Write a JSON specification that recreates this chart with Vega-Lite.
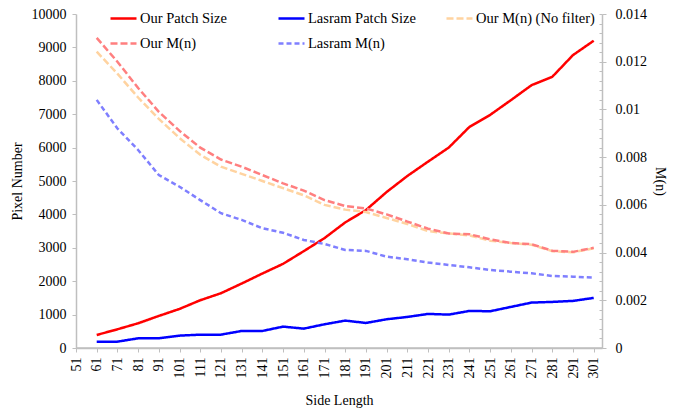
{
  "$schema": "https://vega.github.io/schema/vega-lite/v6.json",
  "autosize": {"type": "none"},
  "width": 526,
  "height": 334,
  "padding": {"left": 76, "top": 14, "right": 78, "bottom": 64},
  "background": "white",
  "config": {
    "view": {"stroke": null},
    "font": "Liberation Serif",
    "axis": {
      "grid": false,
      "labelFont": "Liberation Serif",
      "titleFont": "Liberation Serif",
      "labelFontSize": 14,
      "titleFontSize": 14,
      "titleFontWeight": "normal",
      "labelColor": "black",
      "titleColor": "black",
      "domainColor": "#BFBFBF",
      "domainWidth": 1.5,
      "tickColor": "#BFBFBF",
      "tickWidth": 1,
      "tickSize": 4
    },
    "legend": {
      "orient": "none",
      "legendX": 33,
      "legendY": -10,
      "direction": "horizontal",
      "columns": 3,
      "gridAlign": "all",
      "columnPadding": 14,
      "rowPadding": 4,
      "symbolType": "stroke",
      "symbolSize": 676,
      "symbolStrokeWidth": 2.5,
      "labelFont": "Liberation Serif",
      "labelFontSize": 14.5,
      "labelColor": "black",
      "labelOffset": 2,
      "labelLimit": 300
    }
  },
  "datasets": {
    "patch": [
      {"n": 61, "series": "Our Patch Size", "pixels": 390},
      {"n": 71, "series": "Our Patch Size", "pixels": 560},
      {"n": 81, "series": "Our Patch Size", "pixels": 740},
      {"n": 91, "series": "Our Patch Size", "pixels": 960},
      {"n": 101, "series": "Our Patch Size", "pixels": 1170},
      {"n": 111, "series": "Our Patch Size", "pixels": 1430},
      {"n": 121, "series": "Our Patch Size", "pixels": 1640},
      {"n": 131, "series": "Our Patch Size", "pixels": 1930},
      {"n": 141, "series": "Our Patch Size", "pixels": 2230},
      {"n": 151, "series": "Our Patch Size", "pixels": 2520},
      {"n": 161, "series": "Our Patch Size", "pixels": 2900},
      {"n": 171, "series": "Our Patch Size", "pixels": 3290},
      {"n": 181, "series": "Our Patch Size", "pixels": 3760},
      {"n": 191, "series": "Our Patch Size", "pixels": 4130},
      {"n": 201, "series": "Our Patch Size", "pixels": 4670},
      {"n": 211, "series": "Our Patch Size", "pixels": 5150},
      {"n": 221, "series": "Our Patch Size", "pixels": 5580},
      {"n": 231, "series": "Our Patch Size", "pixels": 6000},
      {"n": 241, "series": "Our Patch Size", "pixels": 6620},
      {"n": 251, "series": "Our Patch Size", "pixels": 6980},
      {"n": 261, "series": "Our Patch Size", "pixels": 7420},
      {"n": 271, "series": "Our Patch Size", "pixels": 7870},
      {"n": 281, "series": "Our Patch Size", "pixels": 8120},
      {"n": 291, "series": "Our Patch Size", "pixels": 8770},
      {"n": 301, "series": "Our Patch Size", "pixels": 9200},
      {"n": 61, "series": "Lasram Patch Size", "pixels": 190},
      {"n": 71, "series": "Lasram Patch Size", "pixels": 190},
      {"n": 81, "series": "Lasram Patch Size", "pixels": 290},
      {"n": 91, "series": "Lasram Patch Size", "pixels": 290},
      {"n": 101, "series": "Lasram Patch Size", "pixels": 370},
      {"n": 111, "series": "Lasram Patch Size", "pixels": 400},
      {"n": 121, "series": "Lasram Patch Size", "pixels": 400},
      {"n": 131, "series": "Lasram Patch Size", "pixels": 510},
      {"n": 141, "series": "Lasram Patch Size", "pixels": 510},
      {"n": 151, "series": "Lasram Patch Size", "pixels": 640},
      {"n": 161, "series": "Lasram Patch Size", "pixels": 580},
      {"n": 171, "series": "Lasram Patch Size", "pixels": 710},
      {"n": 181, "series": "Lasram Patch Size", "pixels": 820},
      {"n": 191, "series": "Lasram Patch Size", "pixels": 750},
      {"n": 201, "series": "Lasram Patch Size", "pixels": 860},
      {"n": 211, "series": "Lasram Patch Size", "pixels": 930},
      {"n": 221, "series": "Lasram Patch Size", "pixels": 1020},
      {"n": 231, "series": "Lasram Patch Size", "pixels": 1000},
      {"n": 241, "series": "Lasram Patch Size", "pixels": 1110},
      {"n": 251, "series": "Lasram Patch Size", "pixels": 1100},
      {"n": 261, "series": "Lasram Patch Size", "pixels": 1230},
      {"n": 271, "series": "Lasram Patch Size", "pixels": 1360},
      {"n": 281, "series": "Lasram Patch Size", "pixels": 1380},
      {"n": 291, "series": "Lasram Patch Size", "pixels": 1410},
      {"n": 301, "series": "Lasram Patch Size", "pixels": 1500}
    ],
    "mn": [
      {"n": 61, "series": "Our M(n) (No filter)", "m": 0.01242},
      {"n": 71, "series": "Our M(n) (No filter)", "m": 0.0115},
      {"n": 81, "series": "Our M(n) (No filter)", "m": 0.0105},
      {"n": 91, "series": "Our M(n) (No filter)", "m": 0.0096},
      {"n": 101, "series": "Our M(n) (No filter)", "m": 0.0088},
      {"n": 111, "series": "Our M(n) (No filter)", "m": 0.0081},
      {"n": 121, "series": "Our M(n) (No filter)", "m": 0.0076},
      {"n": 131, "series": "Our M(n) (No filter)", "m": 0.0073},
      {"n": 141, "series": "Our M(n) (No filter)", "m": 0.007},
      {"n": 151, "series": "Our M(n) (No filter)", "m": 0.0067},
      {"n": 161, "series": "Our M(n) (No filter)", "m": 0.0064},
      {"n": 171, "series": "Our M(n) (No filter)", "m": 0.006},
      {"n": 181, "series": "Our M(n) (No filter)", "m": 0.0058},
      {"n": 191, "series": "Our M(n) (No filter)", "m": 0.0057},
      {"n": 201, "series": "Our M(n) (No filter)", "m": 0.00545},
      {"n": 211, "series": "Our M(n) (No filter)", "m": 0.0052},
      {"n": 221, "series": "Our M(n) (No filter)", "m": 0.0049},
      {"n": 231, "series": "Our M(n) (No filter)", "m": 0.0048},
      {"n": 241, "series": "Our M(n) (No filter)", "m": 0.00472},
      {"n": 251, "series": "Our M(n) (No filter)", "m": 0.0045},
      {"n": 261, "series": "Our M(n) (No filter)", "m": 0.0044},
      {"n": 271, "series": "Our M(n) (No filter)", "m": 0.00433},
      {"n": 281, "series": "Our M(n) (No filter)", "m": 0.00406},
      {"n": 291, "series": "Our M(n) (No filter)", "m": 0.00401},
      {"n": 301, "series": "Our M(n) (No filter)", "m": 0.00418},
      {"n": 61, "series": "Our M(n)", "m": 0.013},
      {"n": 71, "series": "Our M(n)", "m": 0.012},
      {"n": 81, "series": "Our M(n)", "m": 0.0109},
      {"n": 91, "series": "Our M(n)", "m": 0.0099},
      {"n": 101, "series": "Our M(n)", "m": 0.0091},
      {"n": 111, "series": "Our M(n)", "m": 0.0084},
      {"n": 121, "series": "Our M(n)", "m": 0.0079},
      {"n": 131, "series": "Our M(n)", "m": 0.0076},
      {"n": 141, "series": "Our M(n)", "m": 0.00725},
      {"n": 151, "series": "Our M(n)", "m": 0.0069},
      {"n": 161, "series": "Our M(n)", "m": 0.0066},
      {"n": 171, "series": "Our M(n)", "m": 0.0062},
      {"n": 181, "series": "Our M(n)", "m": 0.00595},
      {"n": 191, "series": "Our M(n)", "m": 0.00585},
      {"n": 201, "series": "Our M(n)", "m": 0.0056},
      {"n": 211, "series": "Our M(n)", "m": 0.0053},
      {"n": 221, "series": "Our M(n)", "m": 0.005},
      {"n": 231, "series": "Our M(n)", "m": 0.0048},
      {"n": 241, "series": "Our M(n)", "m": 0.00477},
      {"n": 251, "series": "Our M(n)", "m": 0.00455},
      {"n": 261, "series": "Our M(n)", "m": 0.0044},
      {"n": 271, "series": "Our M(n)", "m": 0.00435},
      {"n": 281, "series": "Our M(n)", "m": 0.00408},
      {"n": 291, "series": "Our M(n)", "m": 0.00403},
      {"n": 301, "series": "Our M(n)", "m": 0.0042},
      {"n": 61, "series": "Lasram M(n)", "m": 0.0104},
      {"n": 71, "series": "Lasram M(n)", "m": 0.0092},
      {"n": 81, "series": "Lasram M(n)", "m": 0.0083},
      {"n": 91, "series": "Lasram M(n)", "m": 0.00725},
      {"n": 101, "series": "Lasram M(n)", "m": 0.00676},
      {"n": 111, "series": "Lasram M(n)", "m": 0.0062},
      {"n": 121, "series": "Lasram M(n)", "m": 0.00565},
      {"n": 131, "series": "Lasram M(n)", "m": 0.00537},
      {"n": 141, "series": "Lasram M(n)", "m": 0.00502},
      {"n": 151, "series": "Lasram M(n)", "m": 0.00483},
      {"n": 161, "series": "Lasram M(n)", "m": 0.00453},
      {"n": 171, "series": "Lasram M(n)", "m": 0.00436},
      {"n": 181, "series": "Lasram M(n)", "m": 0.00411},
      {"n": 191, "series": "Lasram M(n)", "m": 0.00407},
      {"n": 201, "series": "Lasram M(n)", "m": 0.00383},
      {"n": 211, "series": "Lasram M(n)", "m": 0.00372},
      {"n": 221, "series": "Lasram M(n)", "m": 0.00358},
      {"n": 231, "series": "Lasram M(n)", "m": 0.00348},
      {"n": 241, "series": "Lasram M(n)", "m": 0.00338},
      {"n": 251, "series": "Lasram M(n)", "m": 0.00327},
      {"n": 261, "series": "Lasram M(n)", "m": 0.0032},
      {"n": 271, "series": "Lasram M(n)", "m": 0.00313},
      {"n": 281, "series": "Lasram M(n)", "m": 0.00302},
      {"n": 291, "series": "Lasram M(n)", "m": 0.00299},
      {"n": 301, "series": "Lasram M(n)", "m": 0.00295}
    ]
  },
  "layer": [
    {
      "data": {"name": "patch"},
      "mark": {"type": "line", "strokeWidth": 2.5},
      "encoding": {
        "x": {
          "field": "n",
          "type": "quantitative",
          "scale": {"domain": [51, 305], "nice": false, "zero": false},
          "axis": {
            "title": "Side Length",
            "values": [51, 61, 71, 81, 91, 101, 111, 121, 131, 141, 151, 161, 171, 181, 191, 201, 211, 221, 231, 241, 251, 261, 271, 281, 291, 301],
            "labelAngle": 270,
            "labelPadding": 5,
            "titlePadding": 15,
            "labelOverlap": false,
            "labelFlush": false
          }
        },
        "y": {
          "field": "pixels",
          "type": "quantitative",
          "scale": {"domain": [0, 10000], "nice": false},
          "axis": {
            "orient": "left",
            "title": "Pixel Number",
            "values": [0, 1000, 2000, 3000, 4000, 5000, 6000, 7000, 8000, 9000, 10000],
            "format": "d",
            "labelPadding": 6,
            "titlePadding": 7
          }
        },
        "color": {
          "field": "series",
          "type": "nominal",
          "scale": {
            "domain": ["Our Patch Size", "Lasram Patch Size", "Our M(n) (No filter)", "Our M(n)", "Lasram M(n)"],
            "range": ["#FF0000", "#0000FF", "#FFD3A0", "#FF7F7F", "#7F7FFF"]
          },
          "legend": {"title": null}
        },
        "strokeDash": {
          "field": "series",
          "type": "nominal",
          "scale": {
            "domain": ["Our Patch Size", "Lasram Patch Size", "Our M(n) (No filter)", "Our M(n)", "Lasram M(n)"],
            "range": [[1, 0], [1, 0], [7, 3], [7, 3], [5, 3]]
          },
          "legend": {"title": null}
        }
      }
    },
    {
      "data": {"name": "mn"},
      "mark": {"type": "line", "strokeWidth": 2.5},
      "encoding": {
        "x": {
          "field": "n",
          "type": "quantitative",
          "scale": {"domain": [51, 305], "nice": false, "zero": false},
          "axis": {
            "title": "Side Length",
            "values": [51, 61, 71, 81, 91, 101, 111, 121, 131, 141, 151, 161, 171, 181, 191, 201, 211, 221, 231, 241, 251, 261, 271, 281, 291, 301],
            "labelAngle": 270,
            "labelPadding": 5,
            "titlePadding": 15,
            "labelOverlap": false,
            "labelFlush": false
          }
        },
        "y": {
          "field": "m",
          "type": "quantitative",
          "scale": {"domain": [0, 0.014], "nice": false},
          "axis": {
            "orient": "right",
            "title": "M(n)",
            "values": [0, 0.002, 0.004, 0.006, 0.008, 0.01, 0.012, 0.014],
            "format": "~g",
            "labelPadding": 9,
            "titlePadding": 6
          }
        },
        "color": {"field": "series", "type": "nominal", "legend": {"title": null}},
        "strokeDash": {"field": "series", "type": "nominal", "legend": {"title": null}}
      }
    },
    {
      "data": {"values": [{}]},
      "mark": {"type": "rule", "stroke": "#BFBFBF", "strokeWidth": 1.5},
      "encoding": {
        "y": {
          "datum": 0,
          "type": "quantitative",
          "scale": {"domain": [0, 0.014], "nice": false},
          "axis": {
            "orient": "right",
            "title": null,
            "labels": false,
            "domain": false,
            "tickSize": -3,
            "values": [0, 0.0004, 0.0008, 0.0012, 0.0016, 0.002, 0.0024, 0.0028, 0.0032, 0.0036, 0.004, 0.0044, 0.0048, 0.0052, 0.0056, 0.006, 0.0064, 0.0068, 0.0072, 0.0076, 0.008, 0.0084, 0.0088, 0.0092, 0.0096, 0.01, 0.0104, 0.0108, 0.0112, 0.0116, 0.012, 0.0124, 0.0128, 0.0132, 0.0136, 0.014]
          }
        }
      }
    }
  ],
  "resolve": {"scale": {"y": "independent"}}
}
